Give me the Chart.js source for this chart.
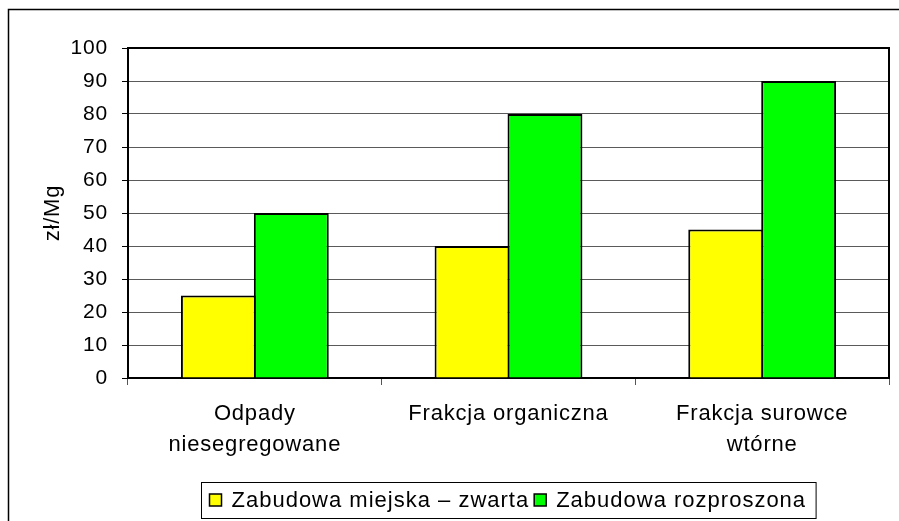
<!DOCTYPE html>
<html>
<head>
<meta charset="utf-8">
<script src="https://cdn.jsdelivr.net/npm/chart.js@4.4.1/dist/chart.umd.min.js"></script>
<style>
  html, body { margin: 0; padding: 0; background: #fff; }
  #wrap { width: 899px; height: 521px; }
</style>
</head>
<body>
<div id="wrap"><canvas id="chart" width="899" height="521"></canvas></div>
<script>
// kategorie i serie
var categories = [["Odpady", "niesegregowane"], "Frakcja organiczna", ["Frakcja surowce", "wtórne"]];
var zwarta = [25, 40, 45];
var rozproszona = [50, 80, 90];
var seriesNames = ["Zabudowa miejska \u2013 zwarta", "Zabudowa rozproszona"];
var yTicksMax = 100;
var yStep = 10;
var yTitle = "zł/Mg";

var FONT = "'Liberation Sans', Arial, sans-serif";

/*---------------- rozstrzelenie liter jak w oryginale ----------------*/
var spacingPlugin = {
    id: 'spacing',
    beforeDraw: function (chart) {
        chart.ctx.letterSpacing = '0.8px';
    }
};

/*---------------- ramka wykresu, ramka zewnetrzna i legenda ----------------*/
var framePlugin = {
    id: 'frame',
    afterDraw: function (chart) {
        var ctx = chart.ctx;
        var a = chart.chartArea;
        ctx.save();
        // ramka zewnetrzna
        ctx.strokeStyle = '#000';
        ctx.lineWidth = 1.5;
        ctx.beginPath();
        ctx.moveTo(8.5, 521);
        ctx.lineTo(8.5, 9.5);
        ctx.lineTo(899, 9.5);
        ctx.stroke();
        // gora i prawa strona obszaru wykresu
        ctx.lineWidth = 2;
        ctx.beginPath();
        ctx.moveTo(a.left, a.top);
        ctx.lineTo(a.right, a.top);
        ctx.lineTo(a.right, a.bottom);
        ctx.stroke();

        // legenda
        ctx.font = '22px ' + FONT;
        ctx.letterSpacing = '1px';
        ctx.textBaseline = 'middle';
        ctx.textAlign = 'left';
        var ds = chart.data.datasets;
        var pad = 8, sq = 12, gap = 10, gap2 = 5;
        var w = pad;
        ds.forEach(function (d, i) {
            w += sq + gap + ctx.measureText(d.label).width;
            if (i < ds.length - 1) w += gap2;
        });
        w += pad + 2;
        var cx = 508.5, top = 482, h = 36;
        var x = Math.round(cx - w / 2) + 0.5;
        ctx.lineWidth = 1;
        ctx.strokeStyle = '#000';
        ctx.strokeRect(x, top + 0.5, w, h);
        var cy = top + h / 2;
        var px = x + pad;
        ds.forEach(function (d) {
            ctx.fillStyle = d.backgroundColor;
            ctx.fillRect(px, cy - sq / 2, sq, sq);
            ctx.lineWidth = 1.5;
            ctx.strokeRect(px, cy - sq / 2, sq, sq);
            px += sq + gap;
            ctx.fillStyle = '#000';
            ctx.fillText(d.label, px, cy + 1);
            px += ctx.measureText(d.label).width + gap2;
        });
        ctx.restore();
    }
};

var ctx = document.getElementById('chart').getContext('2d');
var chart = new Chart(ctx, {
    type: 'bar',
    data: {
        labels: categories,
        datasets: [
            {
                label: seriesNames[0],
                data: zwarta,
                backgroundColor: '#FFFF00',
                borderColor: '#000',
                borderWidth: 2
            },
            {
                label: seriesNames[1],
                data: rozproszona,
                backgroundColor: '#00FF00',
                borderColor: '#000',
                borderWidth: 2
            }
        ]
    },
    options: {
        responsive: false,
        devicePixelRatio: 1,
        animation: false,
        layout: { padding: { top: 48, right: 10, left: 0, bottom: 0 } },
        datasets: { bar: { categoryPercentage: 0.575, barPercentage: 1.027 } },
        plugins: {
            legend: { display: false },
            tooltip: { enabled: false }
        },
        scales: {
            x: {
                afterFit: function (scale) { scale.height = 143; },
                grid: {
                    offset: true,
                    drawOnChartArea: false,
                    tickLength: 7,
                    tickColor: '#555'
                },
                border: { color: '#000', width: 2 },
                ticks: {
                    color: '#000',
                    padding: 13,
                    maxRotation: 0,
                    autoSkip: false,
                    font: { family: FONT, size: 22, lineHeight: 1.43 }
                }
            },
            y: {
                min: 0,
                max: yTicksMax,
                afterFit: function (scale) { scale.width = 128; },
                grid: {
                    color: '#5a5a5a',
                    lineWidth: 1,
                    tickLength: 6,
                    tickColor: '#000'
                },
                border: { color: '#000', width: 2 },
                ticks: {
                    stepSize: yStep,
                    color: '#000',
                    padding: 14,
                    font: { family: FONT, size: 21 }
                },
                title: {
                    display: true,
                    text: yTitle,
                    color: '#000',
                    padding: { top: 40, bottom: 0 },
                    font: { family: FONT, size: 22 }
                }
            }
        }
    },
    plugins: [spacingPlugin, framePlugin]
});
</script>
</body>
</html>
